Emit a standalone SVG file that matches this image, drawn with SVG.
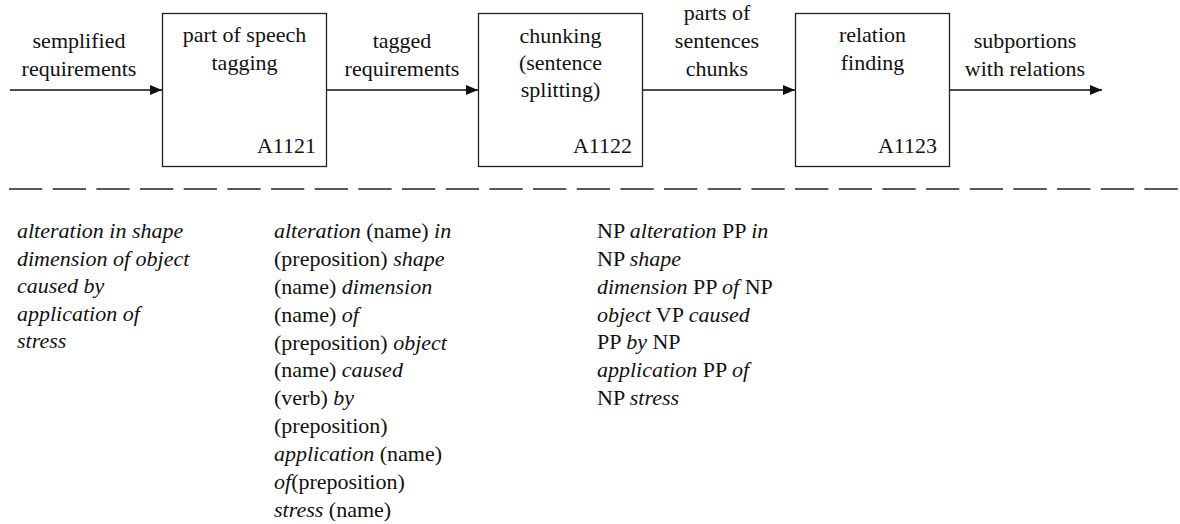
<svg xmlns="http://www.w3.org/2000/svg" width="1180" height="524" viewBox="0 0 1180 524">
<style>
text{font-family:"Liberation Serif","Times New Roman",serif;font-size:22px;fill:#111}
.c{text-anchor:middle}
.r{text-anchor:end}
.i{font-style:italic}
.box{fill:#fff;stroke:#222;stroke-width:1.3}
.edge{stroke:#111;stroke-width:1.3;fill:none;marker-end:url(#ah)}
</style>
<defs>
<marker id="ah" viewBox="0 0 12 10" refX="12" refY="5" markerWidth="12" markerHeight="10" markerUnits="userSpaceOnUse" orient="auto">
<path d="M0,0 L12,5 L0,10 Z" fill="#111"/>
</marker>
</defs>
<g id="connectors">
<line class="edge" x1="10" y1="90" x2="162" y2="90"/>
<line class="edge" x1="327" y1="90" x2="478" y2="90"/>
<line class="edge" x1="643" y1="90" x2="795" y2="90"/>
<line class="edge" x1="949" y1="90" x2="1102" y2="90"/>
<text class="c" x="79" y="48">semplified</text>
<text class="c" x="79" y="76">requirements</text>
<text class="c" x="402" y="48">tagged</text>
<text class="c" x="402" y="76">requirements</text>
<text class="c" x="717" y="20">parts of</text>
<text class="c" x="717" y="48">sentences</text>
<text class="c" x="717" y="76">chunks</text>
<text class="c" x="1025" y="48">subportions</text>
<text class="c" x="1025" y="76">with relations</text>
</g>
<g id="A1121">
<rect class="box" x="162.5" y="13.5" width="164" height="153"/>
<text class="c" x="244.5" y="42">part of speech</text>
<text class="c" x="244.5" y="70">tagging</text>
<text class="r" x="316" y="153">A1121</text>
</g>
<g id="A1122">
<rect class="box" x="478.5" y="13.5" width="164" height="153"/>
<text class="c" x="560.5" y="43">chunking</text>
<text class="c" x="560.5" y="70">(sentence</text>
<text class="c" x="560.5" y="97">splitting)</text>
<text class="r" x="632" y="153">A1122</text>
</g>
<g id="A1123">
<rect class="box" x="795.5" y="13.5" width="154" height="153"/>
<text class="c" x="872.5" y="42">relation</text>
<text class="c" x="872.5" y="70">finding</text>
<text class="r" x="937" y="153">A1123</text>
</g>
<line x1="9" y1="189" x2="1180" y2="189" stroke="#222" stroke-width="1.3" stroke-dasharray="33.3 10.37"/>
<g id="col1" class="i">
<text class="i" x="17" y="238">alteration in shape</text>
<text class="i" x="17" y="266">dimension of object</text>
<text class="i" x="17" y="293">caused by</text>
<text class="i" x="17" y="321">application of</text>
<text class="i" x="17" y="348">stress</text>
</g>
<g id="col2">
<text x="274" y="238"><tspan class="i">alteration</tspan> (name) <tspan class="i">in</tspan></text>
<text x="274" y="266">(preposition) <tspan class="i">shape</tspan></text>
<text x="274" y="294">(name) <tspan class="i">dimension</tspan></text>
<text x="274" y="322">(name) <tspan class="i">of</tspan></text>
<text x="274" y="350">(preposition) <tspan class="i">object</tspan></text>
<text x="274" y="377">(name) <tspan class="i">caused</tspan></text>
<text x="274" y="405">(verb) <tspan class="i">by</tspan></text>
<text x="274" y="433">(preposition)</text>
<text x="274" y="461"><tspan class="i">application</tspan> (name)</text>
<text x="274" y="489"><tspan class="i">of</tspan>(preposition)</text>
<text x="274" y="517"><tspan class="i">stress</tspan> (name)</text>
</g>
<g id="col3">
<text x="597" y="238">NP <tspan class="i">alteration</tspan>  PP <tspan class="i">in</tspan></text>
<text x="597" y="266">NP <tspan class="i">shape</tspan></text>
<text x="597" y="294"><tspan class="i">dimension</tspan> PP <tspan class="i">of</tspan> NP</text>
<text x="597" y="322"><tspan class="i">object</tspan> VP <tspan class="i">caused</tspan></text>
<text x="597" y="349">PP <tspan class="i">by</tspan> NP</text>
<text x="597" y="377"><tspan class="i">application</tspan> PP <tspan class="i">of</tspan></text>
<text x="597" y="405">NP <tspan class="i">stress</tspan></text>
</g>
</svg>
